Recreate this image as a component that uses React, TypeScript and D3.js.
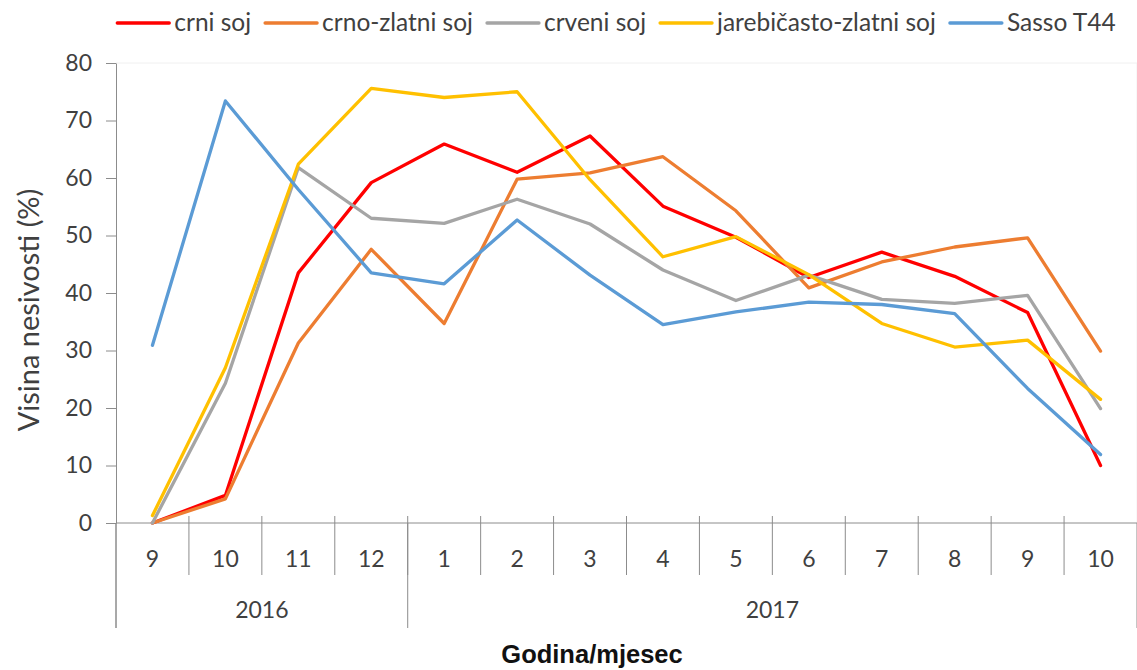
import React, { useRef, useEffect } from 'react';
import * as d3 from 'd3';

// months on the category axis, grouped by year
const months = ["9", "10", "11", "12", "1", "2", "3", "4", "5", "6", "7", "8", "9", "10"];
const years = [{ label: "2016", count: 4 }, { label: "2017", count: 10 }];
const yTicks = [0, 10, 20, 30, 40, 50, 60, 70, 80];

// Visina nesivosti (%) per strain
const crniSoj = [0, 4.8, 43.5, 59.2, 65.9, 61.0, 67.3, 55.1, 49.7, 42.7, 47.1, 42.9, 36.6, 10.0];
const crnoZlatniSoj = [0, 4.2, 31.3, 47.6, 34.7, 59.8, 60.9, 63.7, 54.3, 40.9, 45.4, 48.0, 49.6, 29.9];
const crveniSoj = [0, 24.3, 61.8, 53.0, 52.1, 56.3, 52.0, 44.0, 38.7, 43.1, 38.9, 38.2, 39.6, 19.9];
const jarebicastoZlatniSoj = [1.3, 27.0, 62.4, 75.6, 74.0, 75.0, 59.7, 46.3, 49.8, 43.2, 34.7, 30.6, 31.8, 21.5];
const sassoT44 = [30.9, 73.4, 58.0, 43.5, 41.6, 52.7, 43.1, 34.5, 36.7, 38.4, 38.0, 36.4, 23.4, 11.9];

const seriesNames = ["crni soj", "crno-zlatni soj", "crveni soj", "jarebičasto-zlatni soj", "Sasso T44"];
const seriesColors = ["#FF0000", "#ED7D31", "#A5A5A5", "#FFC000", "#5B9BD5"];

const App = () => {
  const svgRef = useRef<SVGSVGElement>(null);

  useEffect(() => {
    const width = 1137;
    const height = 670;
    const left = 116, right = 1137, top = 63, bottom = 523;
    const font = "Lato, 'Noto Sans', sans-serif";
    const textColor = "#404040";
    const axisColor = "#8c8c8c";

    const series = [crniSoj, crnoZlatniSoj, crveniSoj, jarebicastoZlatniSoj, sassoT44];

    const svg = d3.select(svgRef.current)
      .attr("width", width)
      .attr("height", height);
    svg.selectAll("*").remove();

    const x = d3.scaleBand<number>()
      .domain(months.map((_, i) => i))
      .range([left, right]);

    const y = d3.scaleLinear()
      .domain([0, 80])
      .range([bottom, top]);

    // faint plot area border
    svg.append("path")
      .attr("d", `M${left},${top}H${right}V${bottom}`)
      .attr("fill", "none")
      .attr("stroke", "#f0f0f0");

    // y axis
    const yAxis = svg.append("g")
      .attr("transform", `translate(${left},0)`)
      .call(d3.axisLeft(y).tickValues(yTicks).tickSize(10).tickSizeOuter(0).tickPadding(14));
    yAxis.select(".domain").attr("stroke", axisColor);
    yAxis.selectAll(".tick line").attr("stroke", axisColor);
    yAxis.selectAll(".tick text")
      .attr("fill", textColor)
      .attr("font-family", font)
      .attr("font-size", 23);
    // extend axis line down through the category rows
    svg.append("line")
      .attr("x1", left).attr("x2", left)
      .attr("y1", bottom).attr("y2", 628)
      .attr("stroke", axisColor);

    // x axis: horizontal line, month separators and labels
    const xAxis = svg.append("g");
    xAxis.append("line")
      .attr("x1", left).attr("x2", right)
      .attr("y1", bottom).attr("y2", bottom)
      .attr("stroke", axisColor);

    xAxis.selectAll(".msep")
      .data(months.map((_, i) => i).slice(1))
      .join("line")
      .attr("x1", d => x(d)!).attr("x2", d => x(d)!)
      .attr("y1", bottom - 7).attr("y2", 575)
      .attr("stroke", axisColor);

    xAxis.selectAll(".mlabel")
      .data(months)
      .join("text")
      .attr("x", (_, i) => x(i)! + x.bandwidth() / 2)
      .attr("y", 567)
      .attr("text-anchor", "middle")
      .attr("fill", textColor)
      .attr("font-family", font)
      .attr("font-size", 23)
      .text(d => d);

    // year groups
    let start = 0;
    const yearSpans = years.map(yr => {
      const s = { label: yr.label, from: start, to: start + yr.count - 1 };
      start += yr.count;
      return s;
    });
    const yearEdges = [left, ...yearSpans.map(s => x(s.to)! + x.bandwidth())];
    xAxis.selectAll(".ysep")
      .data(yearEdges)
      .join("line")
      .attr("x1", d => d).attr("x2", d => d)
      .attr("y1", bottom).attr("y2", 628)
      .attr("stroke", axisColor);
    xAxis.selectAll(".ylabel")
      .data(yearSpans)
      .join("text")
      .attr("x", d => (x(d.from)! + x(d.to)! + x.bandwidth()) / 2)
      .attr("y", 618)
      .attr("text-anchor", "middle")
      .attr("fill", textColor)
      .attr("font-family", font)
      .attr("font-size", 23)
      .text(d => d.label);

    // lines
    const line = d3.line<number>()
      .x((_, i) => x(i)! + x.bandwidth() / 2)
      .y(d => y(d));

    svg.append("g")
      .selectAll("path")
      .data(series)
      .join("path")
      .attr("d", d => line(d))
      .attr("fill", "none")
      .attr("stroke", (_, i) => seriesColors[i])
      .attr("stroke-width", 3.3)
      .attr("stroke-linejoin", "round")
      .attr("stroke-linecap", "round");

    // axis titles
    svg.append("text")
      .attr("transform", `translate(39,310) rotate(-90)`)
      .attr("text-anchor", "middle")
      .attr("fill", textColor)
      .attr("font-family", font)
      .attr("font-size", 29)
      .text("Visina nesivosti (%)");

    svg.append("text")
      .attr("x", 592)
      .attr("y", 663)
      .attr("text-anchor", "middle")
      .attr("fill", "#111")
      .attr("font-family", "'Liberation Sans', Arial, sans-serif")
      .attr("font-weight", "bold")
      .attr("font-size", 25.5)
      .text("Godina/mjesec");

    // legend, laid out from measured text widths and centred
    const legend = svg.append("g");
    const lineLen = 52, textGap = 5, itemGap = 14;
    const items = legend.selectAll("g")
      .data(seriesNames)
      .join("g");
    items.append("line")
      .attr("x1", 0).attr("x2", lineLen)
      .attr("y1", 23).attr("y2", 23)
      .attr("stroke", (_, i) => seriesColors[i])
      .attr("stroke-width", 3.3)
      .attr("stroke-linecap", "round");
    items.append("text")
      .attr("x", lineLen + textGap)
      .attr("y", 31)
      .attr("fill", textColor)
      .attr("font-family", font)
      .attr("font-size", 24.5)
      .text(d => d);
    const widths: number[] = [];
    items.select("text").each(function () {
      widths.push((this as SVGTextElement).getComputedTextLength());
    });
    const total = d3.sum(widths, w => lineLen + textGap + w) + itemGap * (widths.length - 1);
    let pos = 616.5 - total / 2;
    items.attr("transform", (_, i) => {
      const t = `translate(${pos},0)`;
      pos += lineLen + textGap + widths[i] + itemGap;
      return t;
    });
  }, []);

  return (
    <svg ref={svgRef} style={{ position: "absolute", left: 0, top: 0, background: "#fff" }} />
  );
};

export default App;
